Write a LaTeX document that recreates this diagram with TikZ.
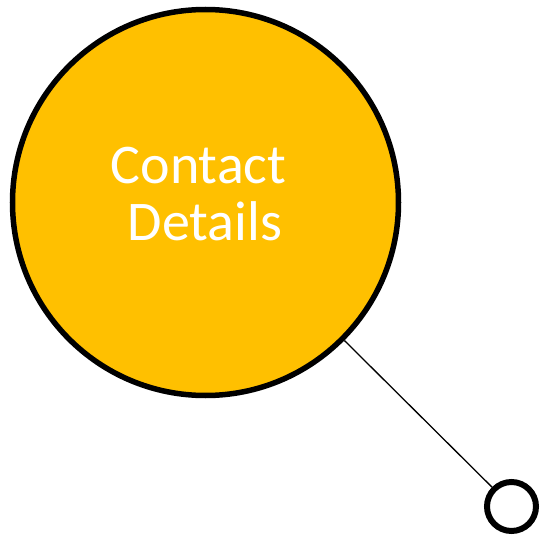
\documentclass[tikz,border=0pt]{standalone}
\usepackage{fontspec}
\setmainfont{Carlito}
\definecolor{gold}{HTML}{FFC000}
\tikzset{
  bigc/.style={circle, draw=black, line width=5.5pt, fill=gold, minimum size=386pt, inner sep=0pt},
  smallc/.style={circle, draw=black, line width=6pt, fill=white, minimum size=49pt, inner sep=0pt},
  lbl/.style={text=white, font=\fontsize{56pt}{57pt}\selectfont, anchor=base, inner sep=0pt},
  conn/.style={draw=black, line width=1.3pt}
}
\begin{document}
\begin{tikzpicture}[x=1pt,y=-1pt]
\useasboundingbox (0,0) rectangle (544,535);
\node[bigc] (big) at (205.5,202.5) {};
\node[smallc] (small) at (511.5,506.5) {};
\draw[conn] (big) -- (small);
\node[lbl] (t1) at (198.5,183) {Contact};
\node[lbl] (t2) at (205,240) {Details};
\end{tikzpicture}
\end{document}
